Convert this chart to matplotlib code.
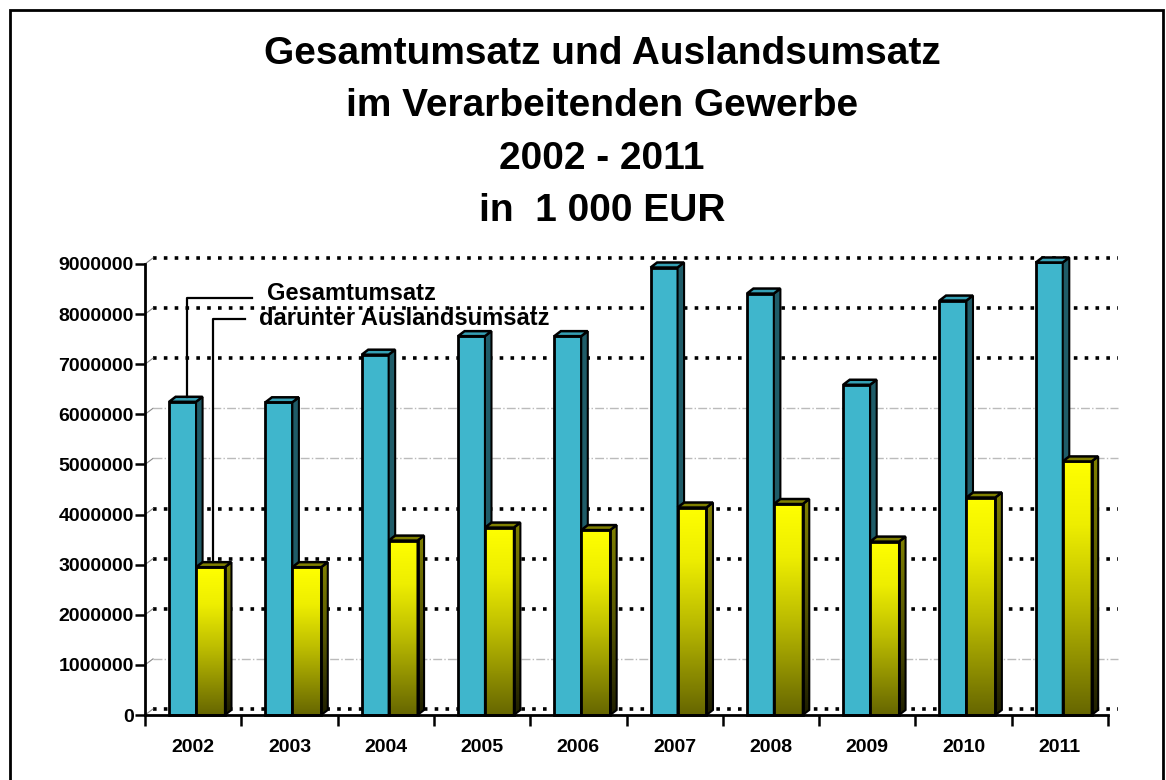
import numpy as np
import matplotlib.pyplot as plt
from matplotlib.patches import Polygon, Rectangle
from matplotlib.colors import LinearSegmentedColormap

plt.rcParams['font.family'] = ['Liberation Sans', 'DejaVu Sans']
plt.rcParams['font.weight'] = 'bold'

years = ['2002', '2003', '2004', '2005', '2006', '2007', '2008', '2009', '2010', '2011']
gesamt = [6250000, 6240000, 7190000, 7560000, 7560000, 8930000, 8410000, 6590000, 8270000, 9030000]
ausland = [2950000, 2950000, 3480000, 3740000, 3690000, 4140000, 4210000, 3460000, 4340000, 5060000]
yticks = list(range(0, 9000001, 1000000))
grid_bold = [True, False, True, True, True, False, False, True, True, True]
title_lines = ['Gesamtumsatz und Auslandsumsatz', 'im Verarbeitenden Gewerbe',
               '2002 - 2011', 'in  1 000 EUR']
series_names = ['Gesamtumsatz', 'darunter Auslandsumsatz']

W, H = 1166, 780
fig = plt.figure(figsize=(W / 100, H / 100), dpi=100)
ax = fig.add_axes([145 / W, 65 / H, 963 / W, 451 / H])
ax.set_xlim(0, 10)
ax.set_ylim(0, 9e6)

# depth of the pseudo-3d bars and of the back wall
dx, dy = 0.068, 100000
gdx, gdy = 0.083, 120000

blue_front, blue_side, blue_top = '#3fb6cc', '#1f5c68', '#35a0b4'
yellow_front = LinearSegmentedColormap.from_list(
    'yf', [(0, '#666600'), (0.45, '#bcbc00'), (0.75, '#eeee00'), (1, '#ffff00')])
yellow_side = LinearSegmentedColormap.from_list(
    'ys', [(0, '#1e1e00'), (0.5, '#555500'), (1, '#808000')])
grad = np.linspace(0, 1, 256).reshape(-1, 1)


def bar3d(x0, w, h, front, side, top, z):
    x1 = x0 + w
    side_pts = [(x1, 0), (x1 + dx, dy), (x1 + dx, h + dy), (x1, h)]
    top_pts = [(x0, h), (x0 + dx, h + dy), (x1 + dx, h + dy), (x1, h)]
    if isinstance(front, str):
        ax.add_patch(Rectangle((x0, 0), w, h, fc=front, ec='black', lw=2,
                               zorder=z, clip_on=False))
    else:
        ax.imshow(grad, extent=[x0, x1, 0, h], aspect='auto', cmap=front,
                  origin='lower', zorder=z, clip_on=False)
        ax.add_patch(Rectangle((x0, 0), w, h, fc='none', ec='black', lw=2,
                               zorder=z + 0.2, clip_on=False))
    if isinstance(side, str):
        ax.add_patch(Polygon(side_pts, fc=side, ec='black', lw=1.5,
                             zorder=z, clip_on=False))
    else:
        poly = Polygon(side_pts, fc='none', ec='black', lw=1.5,
                       zorder=z + 0.2, clip_on=False)
        ax.add_patch(poly)
        im = ax.imshow(grad, extent=[x1, x1 + dx, 0, h + dy], aspect='auto',
                       cmap=side, origin='lower', zorder=z + 0.1)
        im.set_clip_path(poly)
    ax.add_patch(Polygon(top_pts, fc=top, ec='black', lw=1.8,
                         zorder=z + 0.3, clip_on=False))


# back wall grid
for v, bold in zip(yticks, grid_bold):
    if bold:
        ax.plot([gdx, 10 + gdx * 1.3], [v + gdy] * 2, color='black', lw=2.6,
                ls=(0, (1, 2)), zorder=1, clip_on=False)
    else:
        ax.plot([gdx, 10 + gdx * 1.3], [v + gdy] * 2, color='#bbbbbb', lw=1,
                ls='-.', zorder=1, clip_on=False)
    ax.plot([0, gdx], [v, v + gdy], color='#888888', lw=0.8, zorder=1, clip_on=False)

for i in range(len(years)):
    bar3d(i + 0.25, 0.28, gesamt[i], blue_front, blue_side, blue_top, 3)
    bar3d(i + 0.53, 0.30, ausland[i], yellow_front, yellow_side, '#808000', 5)

# leader lines for the two series
ax.plot([0.436, 0.436, 1.11], [gesamt[0] + dy, 8.33e6, 8.33e6], color='black',
        lw=1.6, zorder=8, clip_on=False)
ax.plot([0.706, 0.706, 1.04], [ausland[0] + dy, 7.90e6, 7.90e6], color='black',
        lw=1.6, zorder=8, clip_on=False)
ax.text(1.27, 8.42e6, series_names[0], fontsize=17, va='center', ha='left', zorder=9)
ax.text(1.18, 7.92e6, series_names[1], fontsize=17, va='center', ha='left', zorder=9)

for s in ['top', 'right']:
    ax.spines[s].set_visible(False)
for s in ['left', 'bottom']:
    ax.spines[s].set_linewidth(2)
    ax.spines[s].set_zorder(10)

ax.set_yticks(yticks)
ax.set_yticklabels([str(v) for v in yticks], fontsize=14, fontweight='bold')
ax.tick_params(axis='y', length=7, width=1.8, pad=1)
ax.set_xticks(range(11))
ax.set_xticklabels([])
ax.tick_params(axis='x', which='major', length=8, width=1.8)
ax.set_xticks([i + 0.5 for i in range(10)], minor=True)
ax.set_xticklabels(years, minor=True, fontsize=14, fontweight='bold')
ax.tick_params(axis='x', which='minor', length=0, pad=17)

for k, line in enumerate(title_lines):
    fig.text(602 / W, 1 - (54 + 52.5 * k) / H, line, fontsize=28, fontweight='bold',
             ha='center', va='center')

fig.add_artist(Rectangle((10 / W, -0.05), 1153 / W, 1.05 - 10 / H, fc='none',
                         ec='black', lw=2, transform=fig.transFigure))

fig.savefig('out.png', dpi=100)
